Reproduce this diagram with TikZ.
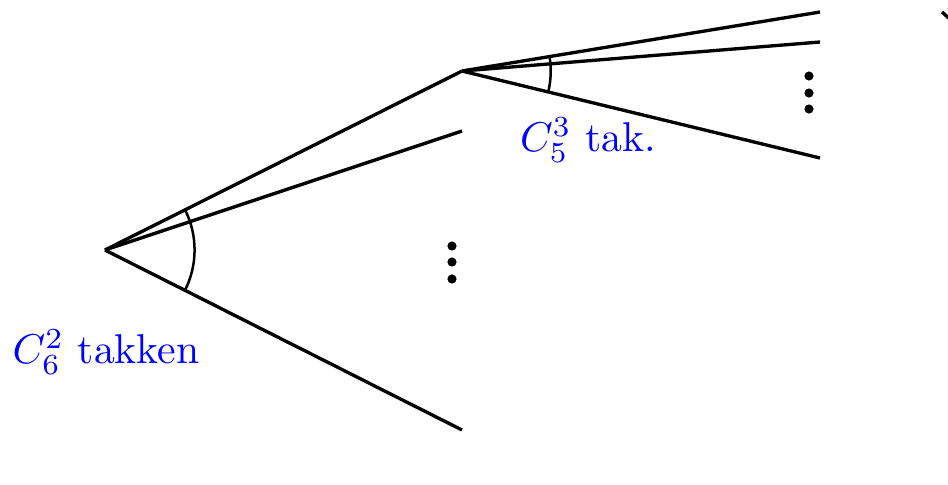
\documentclass[tikz,border=0pt]{standalone}
\usepackage{xcolor}
\usepackage{tikz}
\usetikzlibrary{positioning, calc, angles}
\tikzset{
  tak/.style={thick},
  hoek/.style={draw, semithick},
  lbl/.style={text=blue},
}

\begin{document}
\begin{tikzpicture}[x=0.24pt, y=-0.24pt]
    \useasboundingbox (0,0) rectangle (948,485);
    % first level
    \coordinate (w) at (105,250);
    \coordinate (a) at (462,71);
    \coordinate (b) at (462,131);
    \coordinate (c) at (462,430);
    \draw[tak] (w) -- (a);
    \draw[tak] (w) -- (b);
    \draw[tak] (w) -- (c);
    \pic[hoek, angle radius=21.5pt] {angle = c--w--a};
    % second level
    \coordinate (a1) at (820,12);
    \coordinate (a2) at (820,42);
    \coordinate (a3) at (820,158);
    \draw[tak] (a) -- (a1);
    \draw[tak] (a) -- (a2);
    \draw[tak] (a) -- (a3);
    \pic[hoek, angle radius=21.3pt] {angle = a3--a--a1};
    % dots
    \foreach \y in {246,262,279} \fill (452,\y) circle[radius=1.1pt];
    \foreach \y in {76,93,109} \fill (809,\y) circle[radius=1.1pt];
    % cut-off branch
    \coordinate (r1) at (942,12);
    \coordinate (r2) at (952,21);
    \draw[tak] (r1) -- (r2);
    % labels
    \node[lbl] (lw) at (106,352) {$C_6^2$ takken};
    \node[lbl] (la) at (588,140) {$C_5^3$ tak.};
\end{tikzpicture}
\end{document}
